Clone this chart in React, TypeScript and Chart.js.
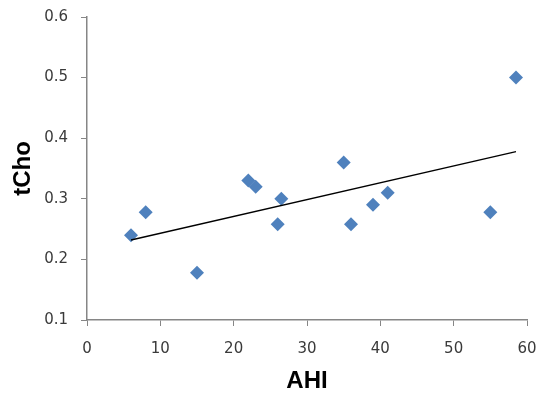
import React, { useEffect, useRef } from "react";
import { Chart, registerables } from "chart.js";

Chart.register(...registerables);

const ahi = [6, 8, 15, 22, 23, 26, 26.5, 35, 36, 39, 41, 55, 58.5];
const tcho = [0.24, 0.278, 0.178, 0.33, 0.32, 0.258, 0.3, 0.36, 0.258, 0.29, 0.31, 0.278, 0.5];
const trendX = [6, 58.5];
const trendY = [0.232, 0.378];
const xTitle = "AHI";
const yTitle = "tCho";

export default function App() {
  const ref = useRef<HTMLCanvasElement | null>(null);
  useEffect(() => {
    document.body.style.margin = "0";
    const ctx = ref.current;
    if (!ctx) return;
    const axisColor = "#868686";
    const tickFont = { family: "DejaVu Sans", size: 15 };
    const titleFont = { family: "Liberation Sans", size: 24, weight: "bold" as const };
    const chart = new Chart(ctx, {
      type: "scatter",
      data: {
        datasets: [
          {
            type: "line",
            label: "trend",
            data: trendX.map((x, i) => ({ x, y: trendY[i] })),
            borderColor: "#000000",
            borderWidth: 1.3,
            pointRadius: 0,
            fill: false,
          },
          {
            label: "tCho",
            data: ahi.map((x, i) => ({ x, y: tcho[i] })),
            pointStyle: "rectRot",
            pointRadius: 7,
            pointHoverRadius: 7,
            backgroundColor: "#4F81BD",
            borderColor: "#4F81BD",
            borderWidth: 0,
          },
        ],
      },
      options: {
        responsive: false,
        animation: false,
        layout: { padding: { top: 17, right: 12, left: 0, bottom: 0 } },
        plugins: { legend: { display: false }, tooltip: { enabled: false } },
        scales: {
          x: {
            type: "linear",
            min: 0,
            max: 60,
            ticks: { stepSize: 10, font: tickFont, color: "#3a3a3a", padding: 14 },
            grid: { display: true, drawOnChartArea: false, drawTicks: true, tickLength: 6, color: axisColor },
            border: { display: true, color: axisColor, width: 1.5 },
            title: { display: true, text: xTitle, font: titleFont, color: "#000000", padding: { top: 0, bottom: -2 } },
            afterFit: (s: any) => {
              s.height = 74;
              s.paddingLeft = 0;
              s.paddingRight = 0;
            },
          },
          y: {
            type: "linear",
            min: 0.1,
            max: 0.6,
            ticks: {
              stepSize: 0.1,
              font: tickFont,
              color: "#3a3a3a",
              padding: 13,
              callback: (v: any) => Number(v).toFixed(1),
            },
            grid: { display: true, drawOnChartArea: false, drawTicks: true, tickLength: 6, color: axisColor },
            border: { display: true, color: axisColor, width: 1.5 },
            title: { display: true, text: yTitle, font: titleFont, color: "#000000", padding: { top: 9, bottom: 0 } },
            afterFit: (s: any) => {
              s.width = 87;
              s.paddingTop = 0;
              s.paddingBottom = 0;
            },
          },
        },
      },
    });
    return () => chart.destroy();
  }, []);
  return (
    <div style={{ width: 539, height: 394 }}>
      <canvas ref={ref} width={539} height={394} />
    </div>
  );
}
